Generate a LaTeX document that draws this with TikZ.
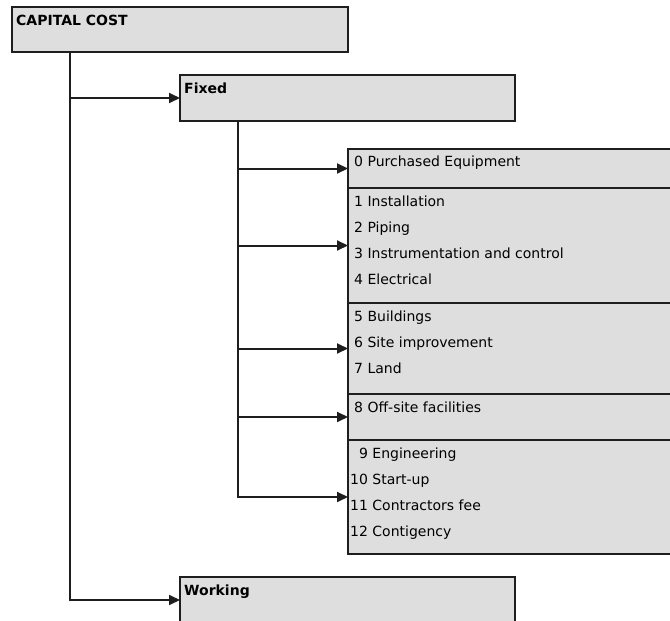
\documentclass[tikz,border=0pt]{standalone}
\usepackage{fontspec}
\setmainfont{DejaVu Sans}
\usetikzlibrary{arrows.meta,positioning}
\definecolor{boxgray}{RGB}{222,222,222}
\definecolor{edgegray}{RGB}{30,30,30}

\begin{document}
\begin{tikzpicture}[x=1pt, y=-1pt,
    box/.style={draw=edgegray, fill=boxgray, line width=2pt, inner sep=0pt, outer sep=0pt, anchor=north west, minimum width=335pt},
    grp/.style={box, minimum width=340pt},
    hdr/.style={font=\fontsize{14}{26}\selectfont\bfseries, inner sep=0pt, anchor=north west},
    itm/.style={font=\fontsize{14}{26}\selectfont, align=left, inner sep=0pt, anchor=north west},
    arr/.style={line width=2pt, draw=edgegray, -{Triangle[length=11pt,width=10pt]}}
]
\useasboundingbox (0,0) rectangle (670,621);

% Top level
\node[box, minimum width=336pt, minimum height=45pt] (cap) at (12,7) {};
\node[box, minimum height=46pt] (fixed) at (180,75) {};
\node[box, minimum height=46pt] (working) at (180,577) {};
\node[hdr] (capt) at ([shift={(4,8)}]cap.north west) {CAPITAL COST};
\node[hdr] (fixedt) at ([shift={(4,8)}]fixed.north west) {Fixed};
\node[hdr] (workingt) at ([shift={(4,8)}]working.north west) {Working};

% Fixed capital items
\node[grp, minimum height=39pt] (g0) at (348,149) {};
\node[grp, minimum height=115pt, below=0pt of g0] (g1) {};
\node[grp, minimum height=91pt, below=0pt of g1] (g2) {};
\node[grp, minimum height=46pt, below=0pt of g2] (g3) {};
\node[grp, minimum height=114pt, below=0pt of g3] (g4) {};
\node[itm] (g0t) at ([shift={(6,7)}]g0.north west) {0 Purchased Equipment};
\node[itm] (g1t) at ([shift={(6,8)}]g1.north west) {1 Installation\\2 Piping\\3 Instrumentation and control\\4 Electrical};
\node[itm] (g2t) at ([shift={(6,8)}]g2.north west) {5 Buildings\\6 Site improvement\\7 Land};
\node[itm] (g3t) at ([shift={(6,8)}]g3.north west) {8 Off-site facilities};
\node[itm] (g4t) at ([shift={(2,8)}]g4.north west) {\hphantom{1}9 Engineering\\10 Start-up\\11 Contractors fee\\12 Contigency};

% Connectors
\coordinate (capfoot) at ([xshift=58pt]cap.south west);
\coordinate (fixfoot) at ([xshift=58pt]fixed.south west);
\draw[arr] (capfoot) |- (fixed.west);
\draw[arr] (capfoot) |- (working.west);
\foreach \g in {g0,g1,g2,g3,g4}
  \draw[arr] (fixfoot) |- (\g.west);
\end{tikzpicture}
\end{document}
